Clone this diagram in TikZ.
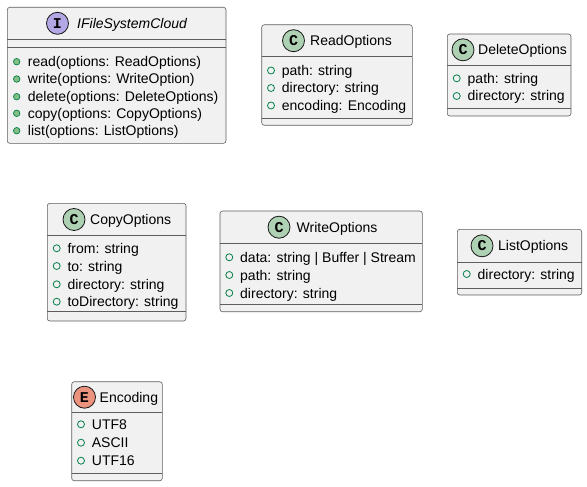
\documentclass[tikz,border=0pt]{standalone}
\usepackage{fontspec}
\setmainfont{Liberation Sans}
\newfontfamily\badgefont{Liberation Mono}
\definecolor{boxfill}{HTML}{F1F1F1}
\definecolor{boxline}{HTML}{181818}
\definecolor{ifacefill}{HTML}{B4A7E5}
\definecolor{classfill}{HTML}{ADD1B2}
\definecolor{enumfill}{HTML}{EB937F}
\definecolor{pubgreen}{HTML}{038048}
\definecolor{methfill}{HTML}{84BE84}
\tikzset{
  classbox/.style={draw=boxline!70, fill=boxfill, line width=0.6pt, rounded corners=2.5pt},
  sepline/.style={draw=boxline!70, line width=0.6pt},
  badge/.style={circle, draw=boxline, line width=0.8pt, minimum size=22pt, inner sep=0pt,
    font=\badgefont\bfseries\fontsize{15}{15}\selectfont},
  classname/.style={anchor=west, inner sep=0pt, font=\fontsize{14}{17}\selectfont,
    text height=12pt, text depth=2pt},
  member/.style={classname},
  methdot/.style={circle, fill=methfill, draw=pubgreen, line width=0.7pt, minimum size=6.5pt, inner sep=0pt},
  fielddot/.style={circle, fill=boxfill, draw=pubgreen, line width=0.8pt, minimum size=7pt, inner sep=0pt}
}
\begin{document}
\begin{tikzpicture}[x=1pt,y=-1pt]
\useasboundingbox (0,0) rectangle (587,487);

% IFileSystemCloud
\draw[classbox] (7.3,7.3) rectangle (226,143.3);
\draw[sepline] (7.3,39.3) -- (226,39.3);
\draw[sepline] (7.3,47.7) -- (226,47.7);
\node[badge, fill=ifacefill] (ifs-badge) at (57.5,23.3) {I};
\node[classname] (ifs-title) at (77,23.3) {\itshape IFileSystemCloud};
\node[methdot] (ifs-d1) at (16.7,61.7) {};
\node[member] (ifs-m1) at (27.7,61.7) {read(options: ReadOptions)};
\node[methdot] (ifs-d2) at (16.7,79) {};
\node[member] (ifs-m2) at (27.7,79) {write(options: WriteOption)};
\node[methdot] (ifs-d3) at (16.7,96.7) {};
\node[member] (ifs-m3) at (27.7,96.7) {delete(options: DeleteOptions)};
\node[methdot] (ifs-d4) at (16.7,113.3) {};
\node[member] (ifs-m4) at (27.7,113.3) {copy(options: CopyOptions)};
\node[methdot] (ifs-d5) at (16.7,130.7) {};
\node[member] (ifs-m5) at (27.7,130.7) {list(options: ListOptions)};

% ReadOptions
\draw[classbox] (261.7,24.8) rectangle (412.3,125.3);
\draw[sepline] (261.7,56.5) -- (412.3,56.5);
\draw[sepline] (261.7,118) -- (412.3,118);
\node[badge, fill=classfill] (rd-badge) at (293.5,40.7) {C};
\node[classname] (rd-title) at (310,40.7) {ReadOptions};
\node[fielddot] (rd-d1) at (271,70.5) {};
\node[member] (rd-f1) at (281.7,70.5) {path: string};
\node[fielddot] (rd-d2) at (271,88) {};
\node[member] (rd-f2) at (281.7,88) {directory: string};
\node[fielddot] (rd-d3) at (271,105.5) {};
\node[member] (rd-f3) at (281.7,105.5) {encoding: Encoding};

% DeleteOptions
\draw[classbox] (447.3,34) rectangle (571,116);
\draw[sepline] (447.3,65.7) -- (571,65.7);
\draw[sepline] (447.3,108.5) -- (571,108.5);
\node[badge, fill=classfill] (del-badge) at (463,49.8) {C};
\node[classname] (del-title) at (478,49.8) {DeleteOptions};
\node[fielddot] (del-d1) at (456.7,78.3) {};
\node[member] (del-f1) at (467.5,78.3) {path: string};
\node[fielddot] (del-d2) at (456.7,96) {};
\node[member] (del-f2) at (467.5,96) {directory: string};

% CopyOptions
\draw[classbox] (47.3,203.3) rectangle (186,321);
\draw[sepline] (47.3,235.7) -- (186,235.7);
\draw[sepline] (47.3,311.7) -- (186,311.7);
\node[badge, fill=classfill] (cp-badge) at (74,219.5) {C};
\node[classname] (cp-title) at (90,219.5) {CopyOptions};
\node[fielddot] (cp-d1) at (56.7,248.3) {};
\node[member] (cp-f1) at (67.3,248.3) {from: string};
\node[fielddot] (cp-d2) at (56.7,266) {};
\node[member] (cp-f2) at (67.3,266) {to: string};
\node[fielddot] (cp-d3) at (56.7,284.3) {};
\node[member] (cp-f3) at (67.3,284.3) {directory: string};
\node[fielddot] (cp-d4) at (56.7,301.7) {};
\node[member] (cp-f4) at (67.3,301.7) {toDirectory: string};

% WriteOptions
\draw[classbox] (220,211) rectangle (422.3,311.7);
\draw[sepline] (220,243.3) -- (422.3,243.3);
\draw[sepline] (220,304) -- (422.3,304);
\node[badge, fill=classfill] (wr-badge) at (279,227.2) {C};
\node[classname] (wr-title) at (296.5,227.2) {WriteOptions};
\node[fielddot] (wr-d1) at (229.3,257.3) {};
\node[member] (wr-f1) at (240,257.3) {data: string | Buffer | Stream};
\node[fielddot] (wr-d2) at (229.3,275) {};
\node[member] (wr-f2) at (240,275) {path: string};
\node[fielddot] (wr-d3) at (229.3,293) {};
\node[member] (wr-f3) at (240,293) {directory: string};

% ListOptions
\draw[classbox] (457.3,229.3) rectangle (581.7,295);
\draw[sepline] (457.3,262.3) -- (581.7,262.3);
\draw[sepline] (457.3,288.3) -- (581.7,288.3);
\node[badge, fill=classfill] (ls-badge) at (482,245.8) {C};
\node[classname] (ls-title) at (498,245.8) {ListOptions};
\node[fielddot] (ls-d1) at (466.7,274) {};
\node[member] (ls-f1) at (477.5,274) {directory: string};

% Encoding
\draw[classbox] (71.7,381.7) rectangle (162.3,480.7);
\draw[sepline] (71.7,412.7) -- (162.3,412.7);
\draw[sepline] (71.7,473.3) -- (162.3,473.3);
\node[badge, fill=enumfill] (enc-badge) at (84.5,397.2) {E};
\node[classname] (enc-title) at (99.5,397.2) {Encoding};
\node[fielddot] (enc-d1) at (81,424.3) {};
\node[member] (enc-f1) at (91.7,424.3) {UTF8};
\node[fielddot] (enc-d2) at (81,442.7) {};
\node[member] (enc-f2) at (91.7,442.7) {ASCII};
\node[fielddot] (enc-d3) at (81,460.7) {};
\node[member] (enc-f3) at (91.7,460.7) {UTF16};
\end{tikzpicture}
\end{document}
